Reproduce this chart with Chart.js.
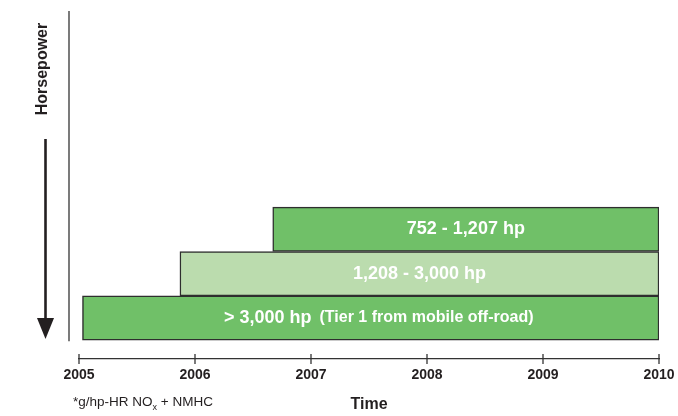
<!DOCTYPE html>
<html>
<head>
<meta charset="utf-8">
<script src="https://cdn.jsdelivr.net/npm/chart.js@4"></script>
<style>
  html, body { margin: 0; padding: 0; background: #ffffff; }
  #wrap { width: 678px; height: 416px; position: relative; }
</style>
</head>
<body>
<div id="wrap"><canvas id="chart" width="678" height="416"></canvas></div>
<script>
// Engine power bands (bottom to top) and the years each limit applies
const hpRanges = ['> 3,000 hp', '1,208 - 3,000 hp', '752 - 1,207 hp'];
const hpNotes = ['(Tier 1 from mobile off-road)', '', ''];
const startYears = [2005.03, 2005.87, 2006.67];
const endYears = [2010, 2010, 2010];
const yearLabels = ['2005', '2006', '2007', '2008', '2009', '2010'];
const footnote = ['*g/hp-HR NO', 'x', ' + NMHC'];

const DARK_GREEN = '#70c068';
const LIGHT_GREEN = '#bbdcae';
const INK = '#231f20';
const FONT = '"Liberation Sans", Arial, Helvetica, sans-serif';

const bars = hpRanges.map((r, i) => ({ x: [startYears[i], endYears[i]], y: i }));

// Labels inside the bars, plus the axis decorations (horsepower arrow, cross ticks, footnote)
const decorations = {
  id: 'decorations',
  afterDatasetsDraw(chart) {
    const ctx = chart.ctx;
    const meta = chart.getDatasetMeta(0);
    ctx.save();
    ctx.fillStyle = '#ffffff';
    ctx.textBaseline = 'middle';
    meta.data.forEach((bar, i) => {
      const p = bar.getProps(['x', 'y', 'base'], true);
      const cx = (p.x + p.base) / 2;
      const mainFont = 'bold 18px ' + FONT;
      const noteFont = 'bold 16px ' + FONT;
      ctx.font = mainFont;
      const w1 = ctx.measureText(hpRanges[i]).width;
      let w2 = 0, gap = 0;
      if (hpNotes[i]) {
        ctx.font = noteFont;
        w2 = ctx.measureText(hpNotes[i]).width;
        gap = 8;
      }
      const x0 = cx - (w1 + gap + w2) / 2 + (hpNotes[i] ? 8 : 0);
      ctx.textAlign = 'left';
      ctx.font = mainFont;
      ctx.fillText(hpRanges[i], x0, p.y);
      if (hpNotes[i]) {
        ctx.font = noteFont;
        ctx.fillText(hpNotes[i], x0 + w1 + gap, p.y);
      }
    });
    ctx.restore();
  },
  afterDraw(chart) {
    const ctx = chart.ctx;
    const area = chart.chartArea;
    const xs = chart.scales.x;
    const ys = chart.scales.y;
    const barsBottom = ys.getPixelForValue(-0.5);
    ctx.save();

    // vertical rule left of the bars
    ctx.strokeStyle = '#333333';
    ctx.lineWidth = 1.3;
    ctx.beginPath();
    ctx.moveTo(area.left - 10, area.top + 1);
    ctx.lineTo(area.left - 10, barsBottom + 1);
    ctx.stroke();

    // "Horsepower" with downward arrow
    ctx.fillStyle = INK;
    ctx.font = 'bold 16px ' + FONT;
    ctx.textAlign = 'center';
    ctx.textBaseline = 'middle';
    ctx.save();
    ctx.translate(area.left - 36, 69);
    ctx.rotate(-Math.PI / 2);
    ctx.fillText('Horsepower', 0, 0);
    ctx.restore();

    const ax = area.left - 33.5;
    ctx.strokeStyle = INK;
    ctx.lineWidth = 2.6;
    ctx.beginPath();
    ctx.moveTo(ax, 139);
    ctx.lineTo(ax, 322);
    ctx.stroke();
    ctx.beginPath();
    ctx.moveTo(ax - 8.5, 318);
    ctx.lineTo(ax + 8.5, 318);
    ctx.lineTo(ax, 339);
    ctx.closePath();
    ctx.fill();

    // tick marks crossing the time axis
    ctx.strokeStyle = '#333333';
    ctx.lineWidth = 1.3;
    xs.ticks.forEach(t => {
      const px = xs.getPixelForValue(t.value);
      ctx.beginPath();
      ctx.moveTo(px, xs.top - 5);
      ctx.lineTo(px, xs.top + 5);
      ctx.stroke();
    });

    // footnote with subscript
    ctx.fillStyle = INK;
    ctx.textAlign = 'left';
    ctx.textBaseline = 'alphabetic';
    let fx = area.left - 6;
    const fy = 406;
    ctx.font = '13.5px ' + FONT;
    ctx.fillText(footnote[0], fx, fy);
    fx += ctx.measureText(footnote[0]).width;
    ctx.font = '9px ' + FONT;
    ctx.fillText(footnote[1], fx, fy + 4);
    fx += ctx.measureText(footnote[1]).width;
    ctx.font = '13.5px ' + FONT;
    ctx.fillText(footnote[2], fx, fy);

    ctx.restore();
  }
};

new Chart(document.getElementById('chart'), {
  type: 'bar',
  data: {
    datasets: [{
      data: bars,
      backgroundColor: [DARK_GREEN, LIGHT_GREEN, DARK_GREEN],
      borderColor: '#2e2e2e',
      borderWidth: 1.5,
      borderSkipped: false,
      categoryPercentage: 1,
      barPercentage: 1
    }]
  },
  options: {
    indexAxis: 'y',
    responsive: false,
    animation: false,
    layout: { padding: { top: 10, left: 79, right: 19, bottom: 0 } },
    plugins: {
      legend: { display: false },
      tooltip: { enabled: false }
    },
    scales: {
      x: {
        type: 'linear',
        min: 2005,
        max: 2010,
        grid: { display: false, drawTicks: false },
        border: { display: true, color: '#333333', width: 1.3 },
        ticks: {
          stepSize: 1,
          padding: 2,
          color: INK,
          font: { family: FONT, size: 14, weight: 'bold', lineHeight: 1.96 },
          callback: (v, i) => yearLabels[i]
        },
        title: {
          display: true,
          text: 'Time',
          color: INK,
          font: { family: FONT, size: 16, weight: 'bold' },
          padding: { top: 4.9, bottom: 1.5 }
        }
      },
      y: {
        type: 'linear',
        display: false,
        offset: false,
        min: -0.925,
        max: 6.95,
        // one tick per band so each bar fills a whole unit
        afterBuildTicks: (scale) => {
          scale.ticks = hpRanges.map((r, i) => ({ value: i }));
        }
      }
    }
  },
  plugins: [decorations]
});
</script>
</body>
</html>
